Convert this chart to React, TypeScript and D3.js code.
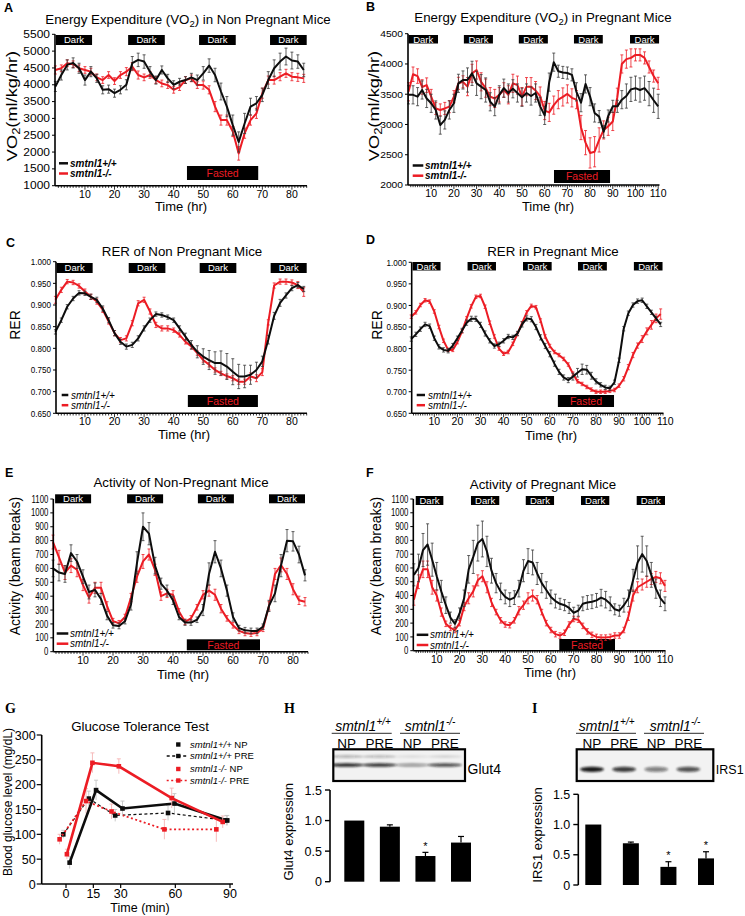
import React from 'react';
import * as d3 from 'd3';

const RED = '#ec1c24';
const BLK = '#0d0d0d';
const SANS = 'Arial, "Liberation Sans", Helvetica, sans-serif';
const SERIF = '"Times New Roman", "Liberation Serif", Times, serif';

// ---------------- Panel A: VO2 non-pregnant ----------------
const hoursA = d3.range(0, 85, 2);
const vo2NpWt = [3950,4290,4590,4650,4490,4140,4390,4190,3850,3870,
  3750,3850,4000,4640,4740,4690,4390,4140,4440,4190,
  4000,4090,4140,4220,4140,4340,4570,4290,3800,3350,
  2800,2300,2850,3350,3450,3700,4140,4490,4690,4840,
  4720,4690,4440];
const vo2NpKo = [4440,4490,4640,4610,4490,4440,4390,4220,4140,4290,
  4110,4290,4390,4540,4290,4220,4290,4140,4040,3990,
  3850,3930,4140,4190,3990,3990,3850,3350,2950,2950,
  2610,1960,2560,2950,3150,3750,4140,4140,4240,4340,
  4240,4220,4190];
const vo2NpWtErr = [150,150,150,150,150,150,150,120,120,120,
  120,120,150,200,200,200,150,120,120,120,
  120,100,100,120,150,200,200,200,250,300,
  300,300,300,250,200,200,250,250,250,250,
  250,200,200];
const vo2NpKoErr = [120,100,100,100,100,100,100,100,100,100,
  100,100,120,120,120,100,100,100,100,100,
  100,100,100,100,100,120,120,150,150,150,
  150,200,150,150,150,150,120,120,120,120,
  120,120,120];

// ---------------- Panel B: VO2 pregnant ----------------
const hoursB = d3.range(0, 111, 2);
const vo2PWt = [3490,3490,3460,3570,3430,3350,3240,2990,3075,3240,
  3350,3680,3735,3735,3845,3680,3625,3570,3375,3295,
  3490,3600,3520,3590,3520,3450,3520,3470,3520,3300,
  3150,3700,4030,3880,3860,3850,3820,3540,3360,3670,
  3460,3190,3130,2880,3140,3300,3300,3410,3470,3580,
  3600,3570,3600,3510,3400,3300];
const vo2PKo = [3540,3830,3800,3620,3650,3460,3265,3240,3265,3295,
  3460,3680,3705,3625,3845,3900,3705,3600,3460,3430,
  3490,3570,3490,3680,3650,3460,3625,3625,3560,3470,
  3230,3200,3320,3410,3455,3505,3440,3410,2950,2700,
  2530,2550,2745,2910,2970,3050,3450,4000,4080,4100,
  4150,4150,4100,3950,3800,3680];
const vo2PWtErr = [150,150,150,150,150,150,150,150,150,150,
  150,150,150,200,200,200,200,200,150,150,
  150,150,150,150,150,150,150,150,150,150,
  150,150,150,100,100,100,100,150,150,150,
  150,150,100,100,100,100,100,150,200,200,
  200,200,200,200,200,200];
const vo2PKoErr = [150,120,120,120,120,120,100,100,100,100,
  100,100,100,150,150,150,150,150,150,150,
  120,120,150,150,150,150,150,150,150,150,
  150,150,150,150,150,150,150,150,200,200,
  250,250,200,150,150,150,150,150,150,150,
  100,100,100,100,100,100];

// ---------------- Panel C: RER non-pregnant ----------------
const hoursC = d3.range(0, 85, 2);
const rerNpWt = [0.838,0.865,0.896,0.915,0.928,0.927,0.919,0.912,0.892,0.865,
  0.835,0.815,0.804,0.808,0.823,0.846,0.865,0.879,0.877,0.872,
  0.865,0.846,0.827,0.808,0.792,0.781,0.773,0.766,0.766,0.758,
  0.746,0.735,0.735,0.739,0.750,0.770,0.820,0.875,0.905,0.922,
  0.939,0.946,0.937];
const rerNpKo = [0.912,0.935,0.954,0.952,0.944,0.931,0.919,0.908,0.889,0.862,
  0.835,0.819,0.823,0.858,0.904,0.912,0.885,0.854,0.846,0.846,
  0.842,0.831,0.815,0.804,0.789,0.773,0.762,0.750,0.742,0.736,
  0.731,0.723,0.723,0.735,0.731,0.745,0.860,0.945,0.954,0.954,
  0.952,0.946,0.930];
const rerNpWtErr = [0.005,0.005,0.005,0.005,0.005,0.005,0.006,0.006,0.006,0.006,
  0.006,0.006,0.006,0.006,0.006,0.006,0.005,0.005,0.005,0.005,
  0.005,0.006,0.008,0.010,0.014,0.018,0.022,0.026,0.028,0.030,
  0.030,0.028,0.026,0.022,0.018,0.012,0.010,0.008,0.008,0.006,
  0.006,0.006,0.006];
const rerNpKoErr = [0.008,0.006,0.005,0.005,0.005,0.006,0.006,0.006,0.006,0.006,
  0.006,0.006,0.006,0.006,0.006,0.006,0.006,0.006,0.006,0.006,
  0.005,0.005,0.005,0.005,0.005,0.005,0.005,0.005,0.005,0.005,
  0.006,0.006,0.006,0.008,0.008,0.008,0.006,0.006,0.006,0.006,
  0.006,0.008,0.010];

// ---------------- Panel D: RER pregnant ----------------
const hoursD = d3.range(0, 109, 2);
const rerPWt = [0.822,0.833,0.845,0.856,0.852,0.824,0.804,0.797,0.795,0.807,
  0.824,0.842,0.860,0.869,0.869,0.855,0.835,0.818,0.806,0.810,
  0.818,0.828,0.826,0.835,0.856,0.870,0.868,0.850,0.826,0.806,
  0.787,0.765,0.746,0.733,0.727,0.735,0.744,0.752,0.751,0.737,
  0.724,0.716,0.710,0.708,0.722,0.773,0.846,0.882,0.901,0.910,
  0.912,0.898,0.884,0.870,0.856];
const rerPKo = [0.874,0.884,0.901,0.912,0.909,0.886,0.850,0.818,0.797,0.797,
  0.815,0.840,0.870,0.898,0.920,0.922,0.897,0.860,0.828,0.800,
  0.788,0.792,0.811,0.834,0.859,0.884,0.899,0.896,0.865,0.828,
  0.806,0.792,0.785,0.776,0.763,0.742,0.724,0.718,0.711,0.705,
  0.700,0.700,0.700,0.702,0.704,0.714,0.730,0.757,0.785,0.807,
  0.822,0.840,0.855,0.870,0.880];
const rerPWtErr = [0.005,0.005,0.005,0.005,0.005,0.005,0.005,0.005,0.005,0.005,
  0.005,0.005,0.006,0.006,0.006,0.006,0.006,0.005,0.005,0.005,
  0.005,0.005,0.005,0.005,0.006,0.006,0.006,0.006,0.006,0.006,
  0.006,0.006,0.006,0.006,0.006,0.008,0.010,0.012,0.010,0.008,
  0.006,0.005,0.005,0.005,0.005,0.005,0.005,0.005,0.005,0.005,
  0.005,0.005,0.005,0.005,0.005];
const rerPKoErr = [0.004,0.004,0.004,0.004,0.004,0.004,0.004,0.004,0.004,0.004,
  0.004,0.004,0.004,0.004,0.004,0.004,0.004,0.004,0.004,0.004,
  0.004,0.004,0.004,0.004,0.004,0.004,0.004,0.004,0.004,0.004,
  0.004,0.004,0.004,0.004,0.004,0.004,0.004,0.004,0.004,0.004,
  0.004,0.004,0.004,0.004,0.004,0.004,0.005,0.006,0.006,0.006,
  0.008,0.008,0.010,0.010,0.012];

// ---------------- Panel E: Activity non-pregnant ----------------
const hoursE = d3.range(0, 85, 2);
const actNpWt = [600,570,560,710,650,540,430,445,380,260,
  190,185,220,340,640,900,850,620,490,440,
  370,250,210,210,230,300,560,720,600,440,
  250,170,155,150,150,180,330,420,620,800,
  795,700,550];
const actNpKo = [790,680,570,620,590,480,390,460,460,330,
  220,205,250,390,540,650,700,590,400,420,
  410,290,215,240,320,410,440,410,310,240,
  190,150,135,130,135,165,330,560,625,560,
  450,370,360];
const actNpWtErr = [60,60,60,60,50,50,50,50,40,30,
  20,20,20,40,80,100,80,60,40,40,
  30,20,20,20,20,40,80,80,60,40,
  30,20,20,20,20,20,40,60,80,80,
  70,60,40];
const actNpKoErr = [50,50,50,50,50,40,40,40,40,30,
  20,20,20,30,40,50,40,40,30,30,
  30,20,20,20,20,30,40,40,30,20,
  20,20,20,20,20,20,30,40,50,40,
  40,30,30];

// ---------------- Panel F: Activity pregnant ----------------
const hoursF = d3.range(0, 111, 2);
const actPWt = [550,600,730,770,660,540,430,330,240,195,
  270,380,590,680,780,810,720,580,490,430,
  390,370,385,450,580,650,640,560,490,440,
  390,360,340,330,310,275,290,340,350,355,
  365,385,370,340,300,290,330,380,510,640,
  700,650,550,450,380,340];
const actPKo = [370,500,590,590,460,400,280,195,165,150,
  200,320,380,430,510,540,460,350,280,220,
  190,185,220,290,330,380,400,370,280,200,
  150,120,110,130,190,230,225,180,140,115,
  100,95,95,100,110,110,150,250,400,460,
  480,500,520,535,525,470];
const actPWtErr = [80,100,120,150,120,100,80,60,40,30,
  40,60,100,120,130,130,110,90,70,60,
  50,50,50,60,80,90,90,80,70,60,
  50,50,40,40,40,40,40,50,50,50,
  50,60,60,50,40,40,50,60,80,120,
  130,110,90,70,60,50];
const actPKoErr = [40,50,60,60,50,40,30,20,20,20,
  20,30,40,40,40,40,40,30,20,20,
  20,20,20,30,30,40,40,30,20,20,
  20,20,20,20,20,20,20,20,20,20,
  20,20,20,20,20,20,20,30,40,40,
  40,40,40,40,40,40];

// ---------------- Light / fasting periods (hours) ----------------
const darkA = [[0.2, 12.4], [24.6, 37], [48.6, 61], [72.6, 85]];
const fastA = [44.5, 68.6];
const darkB = [[0, 13], [24.4, 37.2], [48.6, 61.4], [72.9, 85.6], [97.6, 110.4]];
const fastB = [64.1, 88.8];
const darkC = [[0.4, 12.6], [24.8, 37.2], [48.8, 61.2], [72.8, 85]];
const fastC = [44.8, 68.5];
const darkD = [[0.6, 12.7], [24.4, 36.7], [48.4, 60.8], [72.2, 84.7], [96.4, 108.8]];
const fastD = [63.5, 87.8];
const darkE = [[0.7, 12.7], [24.7, 36.7], [48.3, 60.3], [72, 84]];
const fastE = [44.6, 69];
const darkF = [[0.8, 12.9], [25, 37.4], [49, 61.4], [73.2, 85.6], [97.6, 110]];
const fastF = [63.7, 88.1];

// ---------------- Tick labels ----------------
const xTicks85 = [10, 20, 30, 40, 50, 60, 70, 80];
const xTicks110 = [10, 20, 30, 40, 50, 60, 70, 80, 90, 100, 110];
const yTicksA = [1000, 1500, 2000, 2500, 3000, 3500, 4000, 4500, 5000, 5500];
const yTicksB = [2000, 2500, 3000, 3500, 4000, 4500];
const yTicksRer = [0.65, 0.7, 0.75, 0.8, 0.85, 0.9, 0.95, 1.0];
const yTicksAct = [0, 100, 200, 300, 400, 500, 600, 700, 800, 900, 1000, 1100];

// ---------------- Panel G: glucose tolerance ----------------
const gTicks = [0, 15, 30, 60, 90];
const gYTicks = [0, 50, 100, 150, 200, 250, 300];
const gWtNpT = [2, 16.5, 31, 59.5, 88.5];
const gWtNp = [43, 189, 152, 162, 128];
const gWtNpErr = [12, 20, 15, 20, 10];
const gWtPreT = [-1.5, 12.5, 27, 56, 88];
const gWtPre = [100, 172, 138, 143, 128];
const gWtPreErr = [8, 15, 12, 15, 10];
const gKoNpT = [0.5, 14.5, 29, 58, 86];
const gKoNp = [60, 244, 237, 173, 125];
const gKoNpErr = [10, 20, 15, 20, 12];
const gKoPreT = [-3.5, 11, 25, 54, 82.5];
const gKoPre = [90, 167, 146, 110, 110];
const gKoPreErr = [10, 25, 15, 20, 25];

// ---------------- Panels H, I: western blots ----------------
const lanes = ['NP', 'PRE', 'NP', 'PRE'];
const laneKeys = ['wtNP', 'wtPRE', 'koNP', 'koPRE'];
const glut4Expr = [1.0, 0.9, 0.42, 0.64];
const glut4Err = [0, 0.03, 0.06, 0.1];
const glut4Sig = [false, false, true, false];
const glut4Band = [0.9, 0.85, 0.4, 0.75];
const glut4Upper = [0.35, 0.3, 0.1, 0.15];
const irs1Expr = [1.0, 0.69, 0.3, 0.44];
const irs1Err = [0, 0.02, 0.085, 0.11];
const irs1Sig = [false, false, true, true];
const irs1Band = [0.95, 0.8, 0.5, 0.7];
const barTicks = [0, 0.5, 1.0, 1.5];

// =================================================================

function Vo2Title({ rest }) {
  return (
    <>
      <tspan>Energy Expenditure (VO</tspan>
      <tspan dy={3} fontSize={9.5}>2</tspan>
      <tspan dy={-3}>{`) in ${rest}`}</tspan>
    </>
  );
}

function TimePanel(p) {
  const { x, y } = p;
  const [ymin, ymax] = y.domain();
  const yBase = y(ymin);
  const yTop = y(ymax);
  const lineGen = d3.line().x((d) => x(d[0])).y((d) => y(d[1]));
  const xEndH = x.invert(p.axisEnd);
  const minor = d3.range(1, Math.floor(xEndH) + 1);
  const series = [
    { v: p.ko, e: p.koErr, color: RED, err: RED },
    { v: p.wt, e: p.wtErr, color: BLK, err: '#3a3a3a' },
  ];
  return (
    <g fontFamily={SANS}>
      <text x={p.letterX} y={p.letterY} fontSize={12.5} fontWeight="bold">{p.letter}</text>
      <text x={p.titleX} y={p.titleY} fontSize={13.3} textAnchor="middle">{p.title}</text>
      <text
        transform={`translate(${p.yLabelX},${p.yLabelY}) rotate(-90) scale(${p.yLabelSx || 1},1)`}
        textAnchor="middle" dy="0.35em" fontSize={14}
      >{p.yLabel}</text>

      {p.darks.map(([a, b], i) => (
        <g key={'d' + i}>
          <rect x={x(a)} y={p.darkY} width={x(b) - x(a)} height={p.darkH} fill="#000" />
          <text x={(x(a) + x(b)) / 2} y={p.darkY + p.darkH / 2} dy="0.36em" fill="#fff"
            fontSize={9.5} textAnchor="middle">Dark</text>
        </g>
      ))}
      <rect x={x(p.fast[0])} y={p.fastY} width={x(p.fast[1]) - x(p.fast[0])} height={p.fastH} fill="#000" />
      <text x={(x(p.fast[0]) + x(p.fast[1])) / 2} y={p.fastY + p.fastH / 2} dy="0.36em" fill={RED}
        fontSize={10.5} textAnchor="middle">Fasted</text>

      {series.map((s, si) => (
        <g key={'s' + si}>
          <g stroke={s.err} strokeWidth={0.8}>
            {s.v.map((v, i) => {
              const xx = x(p.hours[i]);
              const y1 = y(v + s.e[i]);
              const y2 = y(v - s.e[i]);
              return (
                <g key={i}>
                  <line x1={xx} x2={xx} y1={y1} y2={y2} />
                  <line x1={xx - 1.5} x2={xx + 1.5} y1={y1} y2={y1} />
                  <line x1={xx - 1.5} x2={xx + 1.5} y1={y2} y2={y2} />
                </g>
              );
            })}
          </g>
          <path d={lineGen(s.v.map((v, i) => [p.hours[i], v]))} fill="none" stroke={s.color}
            strokeWidth={2} strokeLinejoin="round" />
        </g>
      ))}

      {/* axes */}
      <line x1={p.axisX} x2={p.axisX} y1={yTop} y2={yBase} stroke="#000" strokeWidth={1.6} />
      <line x1={p.axisX} x2={p.axisEnd} y1={yBase} y2={yBase} stroke="#000" strokeWidth={1.6} />
      {p.yTicks.map((t) => (
        <g key={'yt' + t}>
          <line x1={p.axisX - 3} x2={p.axisX} y1={y(t)} y2={y(t)} stroke="#000" strokeWidth={1} />
          <text transform={`translate(${p.axisX - 5},${y(t)}) scale(${p.yTickSx},1)`} dy="0.36em"
            textAnchor="end" fontSize={p.yTickSize}>{p.yFmt(t)}</text>
        </g>
      ))}
      {minor.map((t) => (
        <line key={'mt' + t} x1={x(t)} x2={x(t)} y1={yBase} y2={yBase + (t % 10 === 0 ? 4 : 2.2)}
          stroke="#000" strokeWidth={0.8} />
      ))}
      {p.xTicks.map((t) => (
        <text key={'xt' + t} x={x(t)} y={yBase + 12} fontSize={10.5} textAnchor="middle">{t}</text>
      ))}
      <text x={p.timeX} y={yBase + p.timeDy} fontSize={13} textAnchor="middle">Time (hr)</text>

      {/* legend */}
      <line x1={p.legX0} x2={p.legX1} y1={p.legY[0]} y2={p.legY[0]} stroke={BLK} strokeWidth={2.5} />
      <line x1={p.legX0} x2={p.legX1} y1={p.legY[1]} y2={p.legY[1]} stroke={RED} strokeWidth={2.5} />
      <text x={p.legTX} y={p.legY[0]} dy="0.35em" fontSize={10} fontStyle="italic"
        fontWeight={p.legBold ? 'bold' : 'normal'}>smtnl1+/+</text>
      <text x={p.legTX} y={p.legY[1]} dy="0.35em" fontSize={10} fontStyle="italic"
        fontWeight={p.legBold ? 'bold' : 'normal'}>smtnl1-/-</text>
    </g>
  );
}

function Glucose() {
  const x = d3.scaleLinear().domain([0, 90]).range([66, 230]);
  const y = d3.scaleLinear().domain([0, 300]).range([884, 735]);
  const axisX = 41.7;
  const series = [
    { t: gWtPreT, v: gWtPre, e: gWtPreErr, color: BLK, err: '#c4c4c4', w: 1.2, dash: '3,2.5' },
    { t: gKoPreT, v: gKoPre, e: gKoPreErr, color: RED, err: '#f5b3b3', w: 1.8, dash: '2,2.5' },
    { t: gWtNpT, v: gWtNp, e: gWtNpErr, color: BLK, err: '#c4c4c4', w: 2.6, dash: null },
    { t: gKoNpT, v: gKoNp, e: gKoNpErr, color: RED, err: '#f5b3b3', w: 2.6, dash: null },
  ];
  const lineGen = d3.line().x((d) => x(d[0])).y((d) => y(d[1]));
  const legend = [
    { lab: 'smtnl1+/+', suf: ' NP', color: BLK, dash: null, y: 744.5 },
    { lab: 'smtnl1+/+', suf: ' PRE', color: BLK, dash: '3,2.5', y: 756 },
    { lab: 'smtnl1-/-', suf: ' NP', color: RED, dash: null, y: 769 },
    { lab: 'smtnl1-/-', suf: ' PRE', color: RED, dash: '2,2.5', y: 780.5 },
  ];
  return (
    <g fontFamily={SANS}>
      <text x={5} y={713} fontFamily={SERIF} fontWeight="bold" fontSize={14}>G</text>
      <text x={140} y={731} fontSize={13.3} textAnchor="middle">Glucose Tolerance Test</text>
      <text transform={`translate(8,802) rotate(-90)`} textAnchor="middle" dy="0.35em" fontSize={12}>
        Blood glucose level (mg/dL)
      </text>
      {series.map((s, si) => (
        <g key={si}>
          <g stroke={s.err} strokeWidth={0.9}>
            {s.v.map((v, i) => (
              <g key={i}>
                <line x1={x(s.t[i])} x2={x(s.t[i])} y1={y(v + s.e[i])} y2={y(v - s.e[i])} />
                <line x1={x(s.t[i]) - 2} x2={x(s.t[i]) + 2} y1={y(v + s.e[i])} y2={y(v + s.e[i])} />
              </g>
            ))}
          </g>
          <path d={lineGen(s.v.map((v, i) => [s.t[i], v]))} fill="none" stroke={s.color}
            strokeWidth={s.w} strokeDasharray={s.dash || undefined} />
          {s.v.map((v, i) => (
            <rect key={i} x={x(s.t[i]) - 2.3} y={y(v) - 2.3} width={4.6} height={4.6} fill={s.color} />
          ))}
        </g>
      ))}
      <line x1={axisX} x2={axisX} y1={y(300)} y2={y(0)} stroke="#000" strokeWidth={1.6} />
      <line x1={axisX} x2={233} y1={y(0)} y2={y(0)} stroke="#000" strokeWidth={1.6} />
      {gYTicks.map((t) => (
        <g key={t}>
          <line x1={axisX - 5} x2={axisX} y1={y(t)} y2={y(t)} stroke="#000" strokeWidth={1.2} />
          <text x={axisX - 6} y={y(t)} dy="0.36em" textAnchor="end" fontSize={12.5}>{t}</text>
        </g>
      ))}
      {gTicks.map((t) => (
        <g key={t}>
          <line x1={x(t)} x2={x(t)} y1={y(0)} y2={y(0) + 4} stroke="#000" strokeWidth={1.2} />
          <text x={x(t)} y={898} textAnchor="middle" fontSize={12.5}>{t}</text>
        </g>
      ))}
      <text x={140} y={912} textAnchor="middle" fontSize={12.5}>Time (min)</text>
      {legend.map((l, i) => (
        <g key={i}>
          {l.dash && (
            <line x1={166.7} x2={186.7} y1={l.y} y2={l.y} stroke={l.color} strokeWidth={1.3}
              strokeDasharray={l.dash} />
          )}
          <rect x={178.3 - 2.2} y={l.y - 2.2} width={4.4} height={4.4} fill={l.color} />
          <text x={190} y={l.y} dy="0.35em" fontSize={9.5}>
            <tspan fontStyle="italic">{l.lab}</tspan>
            <tspan>{l.suf}</tspan>
          </text>
        </g>
      ))}
    </g>
  );
}

function Genotype({ cx, y, sup }) {
  return (
    <text x={cx} y={y} textAnchor="middle" fontSize={14} fontStyle="italic">
      <tspan>smtnl1</tspan>
      <tspan dy={-6} fontSize={10}>{sup}</tspan>
    </text>
  );
}

function BarPanel(p) {
  const y = d3.scaleLinear().domain([0, 1.5]).range([p.yBase, p.yTop]);
  const xs = d3.scalePoint().domain(laneKeys).range(p.barRange);
  const blotX = d3.scalePoint().domain(laneKeys).range(p.laneRange);
  const clipId = 'clip' + p.letter;
  return (
    <g fontFamily={SANS}>
      <text x={p.letterX} y={713} fontFamily={SERIF} fontWeight="bold" fontSize={14}>{p.letter}</text>
      <Genotype cx={p.g1[0]} y={730.5} sup="+/+" />
      <Genotype cx={p.g2[0]} y={730.5} sup="-/-" />
      <line x1={p.g1[1]} x2={p.g1[2]} y1={733.3} y2={733.3} stroke="#555" strokeWidth={1.2} />
      <line x1={p.g2[1]} x2={p.g2[2]} y1={733.3} y2={733.3} stroke="#555" strokeWidth={1.2} />
      {laneKeys.map((k, i) => (
        <text key={k} x={blotX(k)} y={748} textAnchor="middle" fontSize={13.5}>{lanes[i]}</text>
      ))}
      {/* blot */}
      <defs>
        <clipPath id={clipId}>
          <rect x={p.box[0]} y={749.3} width={p.box[1] - p.box[0]} height={31.7} />
        </clipPath>
      </defs>
      <rect x={p.box[0]} y={749.3} width={p.box[1] - p.box[0]} height={31.7} fill="#f2f2f2" />
      <g clipPath={`url(#${clipId})`} filter="url(#blotBlur)">
        {laneKeys.map((k, i) => (
          <ellipse key={'b' + k} cx={blotX(k)} cy={p.bandY} rx={p.bandRx} ry={p.bandRy}
            fill="#111" opacity={p.band[i]} />
        ))}
        {p.upper && laneKeys.map((k, i) => (
          <ellipse key={'u' + k} cx={blotX(k)} cy={756.5} rx={p.bandRx} ry={1.2}
            fill="#222" opacity={p.upper[i]} />
        ))}
      </g>
      <rect x={p.box[0]} y={749.3} width={p.box[1] - p.box[0]} height={31.7} fill="none"
        stroke="#000" strokeWidth={2.2} />
      <text x={p.box[1] + 2.5} y={774} fontSize={p.proteinSize}>{p.protein}</text>

      {/* bars */}
      <text transform={`translate(${p.yLabelX},${p.yLabelY}) rotate(-90)`} textAnchor="middle"
        dy="0.35em" fontSize={13}>{p.protein} expression</text>
      <line x1={p.axisX} x2={p.axisX} y1={y(1.5)} y2={y(0)} stroke="#000" strokeWidth={1.6} />
      {barTicks.map((t) => (
        <g key={t}>
          <line x1={p.axisX - 5} x2={p.axisX} y1={y(t)} y2={y(t)} stroke="#000" strokeWidth={1.4} />
          <text x={p.axisX - 8} y={y(t)} dy="0.36em" textAnchor="end" fontSize={12.5}>
            {t === 0 ? '0' : t.toFixed(1)}
          </text>
        </g>
      ))}
      {laneKeys.map((k, i) => {
        const cx = xs(k);
        const top = y(p.values[i]);
        const eTop = y(p.values[i] + p.errs[i]);
        return (
          <g key={'bar' + k}>
            <rect x={cx - p.barW / 2} y={top} width={p.barW} height={y(0) - top} fill="#000" />
            {p.errs[i] > 0 && (
              <g stroke="#000" strokeWidth={1.2}>
                <line x1={cx} x2={cx} y1={top} y2={eTop} />
                <line x1={cx - 3} x2={cx + 3} y1={eTop} y2={eTop} />
              </g>
            )}
            {p.sig[i] && (
              <text x={cx} y={eTop - 2.5} textAnchor="middle" fontSize={11}>*</text>
            )}
          </g>
        );
      })}
    </g>
  );
}

export default function App() {
  const xA = d3.scaleLinear().domain([0, 85]).range([55.4, 306.7]);
  const yA = d3.scaleLinear().domain([1000, 5500]).range([185.7, 34.3]);
  const xB = d3.scaleLinear().domain([0, 110.5]).range([408.5, 659.3]);
  const yB = d3.scaleLinear().domain([2000, 4500]).range([185, 33.7]);
  const xC = d3.scaleLinear().domain([0, 85]).range([55.4, 306.7]);
  const yC = d3.scaleLinear().domain([0.65, 1.0]).range([413.3, 261.7]);
  const xD = d3.scaleLinear().domain([0, 110]).range([411.2, 665.3]);
  const yD = d3.scaleLinear().domain([0.65, 1.0]).range([413.3, 262.3]);
  const xE = d3.scaleLinear().domain([0, 85]).range([53, 308]);
  const yE = d3.scaleLinear().domain([0, 1100]).range([651.7, 499]);
  const xF = d3.scaleLinear().domain([0, 110]).range([413.9, 665]);
  const yF = d3.scaleLinear().domain([0, 1100]).range([650.7, 499]);

  const fmtInt = (v) => String(v);
  const fmt3 = (v) => v.toFixed(3);
  const vo2Label = (
    <>
      <tspan>VO</tspan>
      <tspan dy={3} fontSize={10}>2</tspan>
      <tspan dy={-3}>(ml/kg/hr)</tspan>
    </>
  );

  return (
    <svg width={745} height={916} style={{ position: 'absolute', left: 0, top: 0, background: '#fff' }}
      fontFamily={SANS}>
      <defs>
        <filter id="blotBlur" x="-20%" y="-200%" width="140%" height="500%">
          <feGaussianBlur stdDeviation="1.1" />
        </filter>
      </defs>
      <rect x={0} y={0} width={745} height={916} fill="#fff" />

      <TimePanel letter="A" letterX={4} letterY={12} title={<Vo2Title rest="Non Pregnant Mice" />}
        titleX={188} titleY={24} yLabel={vo2Label} yLabelX={12} yLabelY={106} yLabelSx={1.3}
        x={xA} y={yA} axisX={55} axisEnd={307} hours={hoursA}
        wt={vo2NpWt} wtErr={vo2NpWtErr} ko={vo2NpKo} koErr={vo2NpKoErr}
        darks={darkA} darkY={35} darkH={10} fast={fastA} fastY={166} fastH={14}
        yTicks={yTicksA} yFmt={fmtInt} yTickSize={10} yTickSx={1.2} xTicks={xTicks85}
        timeX={181} timeDy={25} legX0={59} legX1={68} legTX={70} legY={[163.3, 173.5]} legBold />

      <TimePanel letter="B" letterX={366} letterY={11} title={<Vo2Title rest="Pregnant Mice" />}
        titleX={543} titleY={21.5} yLabel={vo2Label} yLabelX={374} yLabelY={106} yLabelSx={1.3}
        x={xB} y={yB} axisX={408} axisEnd={659.5} hours={hoursB}
        wt={vo2PWt} wtErr={vo2PWtErr} ko={vo2PKo} koErr={vo2PKoErr}
        darks={darkB} darkY={35} darkH={8.5} fast={fastB} fastY={170} fastH={13}
        yTicks={yTicksB} yFmt={fmtInt} yTickSize={9.5} yTickSx={1.08} xTicks={xTicks110}
        timeX={548} timeDy={26} legX0={412.7} legX1={423.3} legTX={425} legY={[165.5, 175.7]} legBold />

      <TimePanel letter="C" letterX={6} letterY={247} title="RER of Non Pregnant Mice"
        titleX={182} titleY={256} yLabel="RER" yLabelX={15} yLabelY={325}
        x={xC} y={yC} axisX={56} axisEnd={307} hours={hoursC}
        wt={rerNpWt} wtErr={rerNpWtErr} ko={rerNpKo} koErr={rerNpKoErr}
        darks={darkC} darkY={263} darkH={10} fast={fastC} fastY={395} fastH={12}
        yTicks={yTicksRer} yFmt={fmt3} yTickSize={9.5} yTickSx={0.85} xTicks={xTicks85}
        timeX={184} timeDy={26} legX0={61.7} legX1={68.3} legTX={71} legY={[395, 405.2]} />

      <TimePanel letter="D" letterX={366} letterY={244} title="RER in Pregnant Mice"
        titleX={553} titleY={256} yLabel="RER" yLabelX={377} yLabelY={325}
        x={xD} y={yD} axisX={411.7} axisEnd={663.5} hours={hoursD}
        wt={rerPWt} wtErr={rerPWtErr} ko={rerPKo} koErr={rerPKoErr}
        darks={darkD} darkY={262} darkH={8.5} fast={fastD} fastY={395} fastH={12}
        yTicks={yTicksRer} yFmt={fmt3} yTickSize={9.5} yTickSx={0.85} xTicks={xTicks110}
        timeX={551} timeDy={27} legX0={416.7} legX1={425} legTX={428} legY={[395, 405.2]} />

      <TimePanel letter="E" letterX={5} letterY={477} title="Activity of Non-Pregnant Mice"
        titleX={181} titleY={487} yLabel="Activity (beam breaks)" yLabelX={15} yLabelY={566}
        x={xE} y={yE} axisX={53.3} axisEnd={308} hours={hoursE}
        wt={actNpWt} wtErr={actNpWtErr} ko={actNpKo} koErr={actNpKoErr}
        darks={darkE} darkY={494.3} darkH={9} fast={fastE} fastY={639.3} fastH={11}
        yTicks={yTicksAct} yFmt={fmtInt} yTickSize={10} yTickSx={0.78} xTicks={xTicks85}
        timeX={183} timeDy={27} legX0={56.7} legX1={68.3} legTX={70} legY={[633.5, 643.7]} />

      <TimePanel letter="F" letterX={366} letterY={477} title="Activity of Pregnant Mice"
        titleX={543} titleY={489} yLabel="Activity (beam breaks)" yLabelX={376} yLabelY={566}
        x={xF} y={yF} axisX={413.3} axisEnd={665.5} hours={hoursF}
        wt={actPWt} wtErr={actPWtErr} ko={actPKo} koErr={actPKoErr}
        darks={darkF} darkY={496} darkH={9} fast={fastF} fastY={639} fastH={11.7}
        yTicks={yTicksAct} yFmt={fmtInt} yTickSize={10} yTickSx={0.78} xTicks={xTicks110}
        timeX={550} timeDy={26} legX0={416.7} legX1={428.3} legTX={430} legY={[634.8, 645]} />

      <Glucose />

      <BarPanel letter="H" letterX={284} protein="Glut4" proteinSize={14}
        g1={[363, 331.7, 391.7]} g2={[430, 400, 460]} laneRange={[346.7, 445]} box={[333.3, 465]}
        bandY={765} bandRx={17} bandRy={1.7} band={glut4Band} upper={glut4Upper}
        yBase={881.7} yTop={790} axisX={330} barRange={[354.3, 461]} barW={20}
        values={glut4Expr} errs={glut4Err} sig={glut4Sig} yLabelX={288} yLabelY={831.7} />

      <BarPanel letter="I" letterX={532} protein="IRS1" proteinSize={12.5}
        g1={[606.7, 576, 636]} g2={[675, 644, 704]} laneRange={[592, 688.3]} box={[576.7, 713.3]}
        bandY={769.3} bandRx={12} bandRy={2.6} band={irs1Band} upper={null}
        yBase={885} yTop={794.3} axisX={578.3} barRange={[593.3, 706]} barW={16}
        values={irs1Expr} errs={irs1Err} sig={irs1Sig} yLabelX={537} yLabelY={835} />
    </svg>
  );
}
